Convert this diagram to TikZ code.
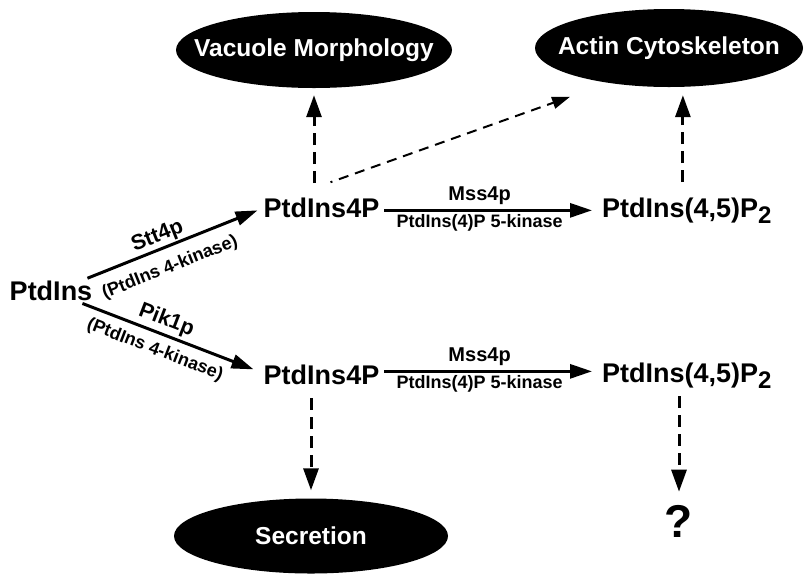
\documentclass[tikz,border=0pt]{standalone}
\usepackage{fontspec}
\setmainfont{Liberation Sans}
\usetikzlibrary{arrows.meta,shapes.geometric}

\begin{document}
\begin{tikzpicture}[x=1pt, y=-1pt, every node/.style={inner sep=0pt}]
  \tikzstyle{lip}=[font=\bfseries\fontsize{27}{30}\selectfont,anchor=base]
  \tikzstyle{ov}=[ellipse,fill=black]
  \tikzstyle{ovt}=[text=white,font=\bfseries\fontsize{24.5}{28}\selectfont]
  \tikzstyle{enz}=[font=\bfseries\fontsize{20}{22}\selectfont]
  \tikzstyle{kin}=[font=\bfseries\fontsize{18}{20}\selectfont]
  \tikzstyle{solidarrow}=[line width=3pt,-{Triangle[length=22pt,width=14pt]}]
  \tikzstyle{dasharrow}=[line width=3pt,dash pattern=on 12pt off 7pt,-{Triangle[length=22pt,width=15pt]}]
  \tikzstyle{thinarrow}=[line width=2pt,dash pattern=on 10pt off 7pt,dash phase=8pt,-{Triangle[length=18pt,width=12pt]}]
  \useasboundingbox (0,0) rectangle (805,574);
  \node[lip] (ptdins) at (51,300) {PtdIns};
  \node[lip] (pA) at (321.5,217) {PtdIns4P};
  \node[lip] (pB) at (321.5,384) {PtdIns4P};
  \node[lip,anchor=base west] (p2A) at (602,217) {PtdIns(4,5)P\raisebox{-6pt}{\fontsize{24}{24}\selectfont 2}};
  \node[lip,anchor=base west] (p2B) at (602,382) {PtdIns(4,5)P\raisebox{-6pt}{\fontsize{24}{24}\selectfont 2}};
  \node[ov,minimum width=276pt,minimum height=76pt,label={[ovt]center:Vacuole Morphology}] (vac) at (314,50) {};
  \node[ov,minimum width=268pt,minimum height=78pt,label={[ovt]center:Actin Cytoskeleton}] (act) at (669,48) {};
  \node[ov,minimum width=274pt,minimum height=75pt,label={[ovt]center:Secretion}] (sec) at (311,536) {};
  \node[font=\bfseries\fontsize{46}{48}\selectfont,anchor=base] (q) at (679,537) {?};
  \draw[solidarrow] ([xshift=-5pt,yshift=2pt]ptdins.north east) -- ([xshift=-6pt,yshift=-3pt]pA.west)
    node[enz,font=\bfseries\fontsize{21.5}{23}\selectfont,pos=0.44,sloped,above,inner sep=1.5pt] {Stt4p}
    node[kin,pos=0.44,sloped,below,inner sep=11pt] {(PtdIns 4-kinase)};
  \draw[solidarrow] ([xshift=-10pt,yshift=-3pt]ptdins.south east) -- ([xshift=-10pt,yshift=5pt]pB.west)
    node[enz,font=\bfseries\fontsize{21.5}{23}\selectfont,pos=0.46,sloped,above,inner sep=3pt] {Pik1p}
    node[kin,pos=0.46,sloped,below,inner sep=7.5pt] {(PtdIns 4-kinase)};
  \draw[solidarrow,shorten <=5pt,shorten >=10pt] ([yshift=-3pt]pA.east) -- ([yshift=-3pt]pA.east -| p2A.west)
    node[enz,pos=0.45,above,inner sep=4pt] {Mss4p}
    node[kin,pos=0.45,below,inner sep=3pt] {PtdIns(4)P 5-kinase};
  \draw[solidarrow,shorten <=5pt,shorten >=10pt] ([yshift=3pt]pB.east) -- ([yshift=3pt]pB.east -| p2B.west)
    node[enz,pos=0.45,above,inner sep=4pt] {Mss4p}
    node[kin,pos=0.45,below,inner sep=3pt] {PtdIns(4)P 5-kinase};
  \draw[dasharrow,shorten <=14pt,shorten >=7pt] (pA.north -| vac.south) -- (vac.south);
  \draw[thinarrow] ([xshift=9pt,yshift=15pt]pA.north) -- ([xshift=-4pt,yshift=-21pt]act.south west);
  \draw[dasharrow,shorten <=15pt,shorten >=8pt] ([xshift=-4pt]p2A.north) -- ([xshift=-4pt]p2A.north |- act.south);
  \draw[dasharrow,shorten <=14pt,shorten >=8pt] (pB.south -| sec.north) -- (sec.north);
  \draw[dasharrow,shorten <=8pt,shorten >=13pt] (p2B.south -| q.north) -- (q.north);
\end{tikzpicture}
\end{document}
